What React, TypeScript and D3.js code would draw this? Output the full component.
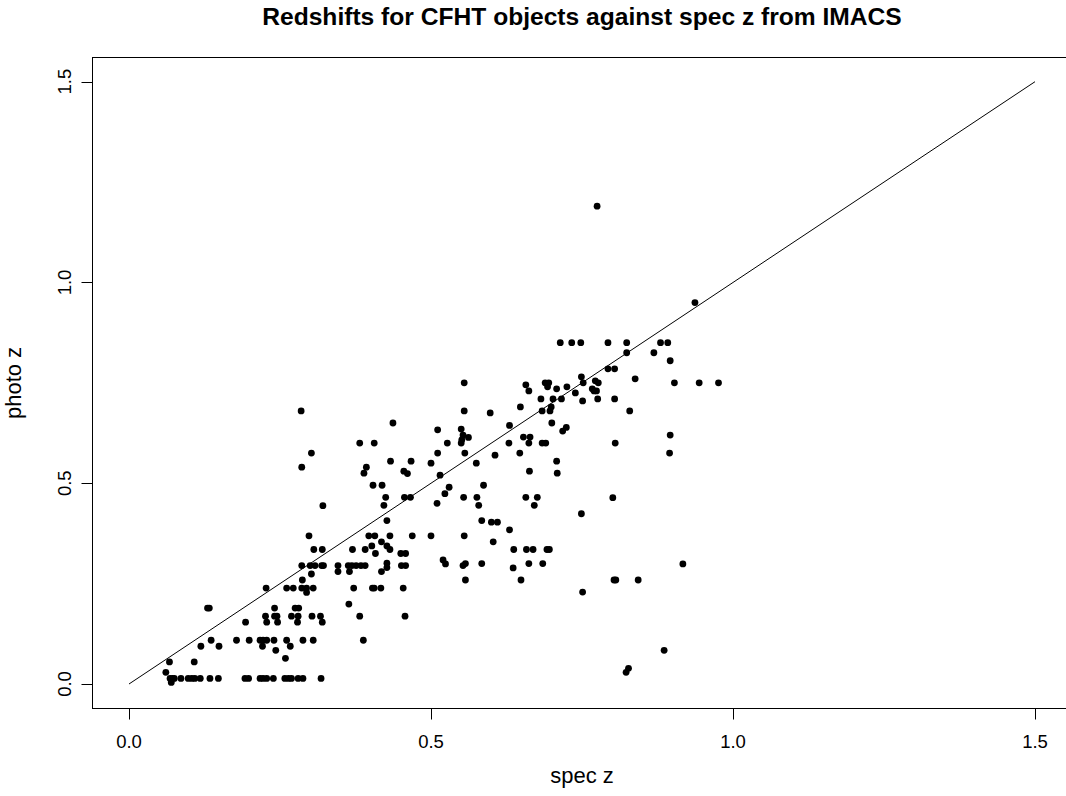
import React from "react";
import * as d3 from "d3";

const chartTitle = "Redshifts for CFHT objects against spec z from IMACS";
const xLabel = "spec z";
const yLabel = "photo z";
const tickValues = [0, 0.5, 1.0, 1.5];
const tickLabels = ["0.0", "0.5", "1.0", "1.5"];
const identityLine = [0, 1.5];

// [spec z, photo z]
const lowRow: [number, number][] = [
  [0.068, 0.014], [0.072, 0.014], [0.075, 0.014], [0.086, 0.014], [0.098, 0.014], [0.104, 0.014],
  [0.109, 0.014], [0.118, 0.014], [0.134, 0.014], [0.148, 0.014], [0.192, 0.014], [0.198, 0.014],
  [0.217, 0.014], [0.222, 0.014], [0.228, 0.014], [0.239, 0.014], [0.258, 0.014], [0.264, 0.014],
  [0.269, 0.014], [0.280, 0.014], [0.288, 0.014], [0.318, 0.014], [0.070, 0.004],
];

const lowPoints: [number, number][] = [
  [0.061, 0.029], [0.067, 0.055], [0.108, 0.055], [0.119, 0.094], [0.136, 0.109], [0.149, 0.094],
  [0.130, 0.189], [0.133, 0.189], [0.178, 0.109], [0.193, 0.154], [0.199, 0.109], [0.217, 0.109],
  [0.222, 0.109], [0.228, 0.109], [0.240, 0.109], [0.221, 0.094], [0.243, 0.084], [0.259, 0.064],
  [0.261, 0.109], [0.267, 0.094], [0.288, 0.109], [0.305, 0.109], [0.388, 0.109],
  [0.226, 0.169], [0.241, 0.169], [0.245, 0.169], [0.269, 0.169], [0.280, 0.169], [0.303, 0.169],
  [0.317, 0.169], [0.382, 0.169], [0.457, 0.169],
  [0.228, 0.154], [0.246, 0.154], [0.279, 0.154], [0.320, 0.154],
  [0.241, 0.189], [0.275, 0.189], [0.281, 0.189],
  [0.227, 0.239], [0.261, 0.239], [0.272, 0.239], [0.286, 0.239], [0.294, 0.239], [0.305, 0.239],
  [0.372, 0.239], [0.403, 0.239], [0.406, 0.239], [0.417, 0.239], [0.454, 0.239],
  [0.294, 0.228], [0.287, 0.259], [0.302, 0.274], [0.364, 0.199],
  [0.286, 0.295], [0.300, 0.295], [0.308, 0.295], [0.319, 0.295], [0.322, 0.295], [0.346, 0.295],
  [0.363, 0.295], [0.369, 0.295], [0.376, 0.295], [0.384, 0.295], [0.391, 0.295], [0.451, 0.295],
  [0.458, 0.295], [0.427, 0.301], [0.427, 0.290],
  [0.346, 0.280], [0.365, 0.280], [0.418, 0.280],
];

const midPoints: [number, number][] = [
  [0.302, 0.575], [0.286, 0.540], [0.321, 0.444], [0.298, 0.369], [0.306, 0.335], [0.320, 0.335],
  [0.370, 0.335], [0.285, 0.680],
  [0.427, 0.407], [0.397, 0.369], [0.407, 0.369], [0.432, 0.369], [0.469, 0.369], [0.500, 0.369],
  [0.555, 0.369], [0.584, 0.407], [0.600, 0.403], [0.610, 0.403], [0.630, 0.384], [0.603, 0.354],
  [0.418, 0.354], [0.402, 0.344], [0.427, 0.344], [0.432, 0.335], [0.391, 0.335], [0.408, 0.325],
  [0.450, 0.325], [0.458, 0.325], [0.520, 0.309], [0.524, 0.299], [0.553, 0.295], [0.557, 0.300],
  [0.584, 0.300], [0.557, 0.259], [0.637, 0.335], [0.658, 0.335], [0.669, 0.335], [0.692, 0.335],
  [0.696, 0.335], [0.636, 0.289], [0.662, 0.300], [0.685, 0.300], [0.649, 0.259],
];

const upperPoints: [number, number][] = [
  [0.714, 0.85], [0.555, 0.75], [0.657, 0.745], [0.662, 0.730], [0.689, 0.75], [0.695, 0.75],
  [0.693, 0.74], [0.708, 0.735], [0.725, 0.74], [0.682, 0.71], [0.702, 0.71], [0.716, 0.71],
  [0.648, 0.69], [0.555, 0.68], [0.598, 0.675], [0.684, 0.68], [0.697, 0.68], [0.699, 0.69],
  [0.437, 0.65], [0.700, 0.65], [0.630, 0.644], [0.511, 0.633], [0.550, 0.635], [0.718, 0.630],
  [0.724, 0.639], [0.553, 0.62], [0.562, 0.614], [0.551, 0.608], [0.550, 0.60],
  [0.382, 0.60], [0.406, 0.60], [0.527, 0.60], [0.629, 0.60], [0.653, 0.615], [0.664, 0.615],
  [0.662, 0.60], [0.684, 0.60], [0.690, 0.60],
  [0.511, 0.575], [0.556, 0.575], [0.606, 0.57], [0.647, 0.575],
  [0.433, 0.555], [0.467, 0.555], [0.500, 0.55], [0.575, 0.55], [0.708, 0.555],
  [0.393, 0.54], [0.389, 0.525], [0.455, 0.53], [0.461, 0.524], [0.515, 0.52], [0.663, 0.53],
  [0.709, 0.525], [0.404, 0.495], [0.419, 0.495], [0.530, 0.49], [0.587, 0.495], [0.523, 0.474],
  [0.425, 0.465], [0.456, 0.465], [0.466, 0.465], [0.554, 0.465], [0.576, 0.465], [0.657, 0.465],
  [0.676, 0.465], [0.422, 0.445], [0.510, 0.45], [0.579, 0.445], [0.671, 0.445],
];

const rightPoints: [number, number][] = [
  [0.805, 0.60], [0.896, 0.62], [0.895, 0.575], [0.801, 0.464], [0.749, 0.424], [0.917, 0.299],
  [0.803, 0.259], [0.806, 0.259], [0.843, 0.259], [0.751, 0.229],
  [0.733, 0.85], [0.748, 0.85], [0.793, 0.85], [0.824, 0.85], [0.880, 0.85], [0.892, 0.85],
  [0.824, 0.825], [0.869, 0.825], [0.896, 0.805], [0.793, 0.785], [0.804, 0.785], [0.749, 0.765],
  [0.838, 0.76], [0.752, 0.75], [0.772, 0.755], [0.777, 0.75], [0.903, 0.75], [0.944, 0.75],
  [0.976, 0.75], [0.739, 0.725], [0.767, 0.735], [0.770, 0.73], [0.774, 0.73], [0.751, 0.705],
  [0.776, 0.71], [0.804, 0.71], [0.829, 0.68], [0.775, 1.19], [0.937, 0.95],
  [0.886, 0.084], [0.827, 0.039], [0.823, 0.029],
];

const W = 1066;
const H = 796;
const FONT = "'Liberation Sans', Arial, Helvetica, sans-serif";

export default function App() {
  const all = [...lowRow, ...lowPoints, ...midPoints, ...upperPoints, ...rightPoints];
  const x = d3.scaleLinear().domain([-0.06, 1.56]).range([92.76, 1071.24]);
  const y = d3.scaleLinear().domain([-0.06, 1.56]).range([708.1, 57.6]);
  const line = d3.line<number>().x((d) => x(d)).y((d) => y(d));

  const left = Math.floor(x(-0.06)) + 0.5;
  const right = Math.floor(x(1.56)) + 0.5;
  const top = Math.floor(y(1.56)) + 0.5;
  const bottom = Math.floor(y(-0.06)) + 0.5;

  return (
    <svg
      width={W}
      height={H}
      style={{ position: "fixed", left: 0, top: 0, background: "#fff" }}
      fontFamily={FONT}
    >
      <rect x={0} y={0} width={W} height={H} fill="#fff" />
      <text x={582} y={24.5} textAnchor="middle" fontWeight="bold" fontSize={24.6} fill="#000">
        {chartTitle}
      </text>
      <path d={line(identityLine) || ""} stroke="#000" strokeWidth={1} fill="none" />
      {all.map((d, i) => (
        <circle key={i} cx={x(d[0])} cy={y(d[1])} r={3.4} fill="#000" />
      ))}
      <rect
        x={left}
        y={top}
        width={right - left}
        height={bottom - top}
        fill="none"
        stroke="#000"
        strokeWidth={1}
      />
      {/* x axis */}
      <line x1={x(tickValues[0])} x2={x(tickValues[tickValues.length - 1])} y1={bottom} y2={bottom} stroke="#000" />
      {tickValues.map((t, i) => (
        <g key={"xt" + i}>
          <line x1={Math.round(x(t)) + 0.5} x2={Math.round(x(t)) + 0.5} y1={bottom} y2={bottom + 11} stroke="#000" />
          <text x={x(t)} y={748} textAnchor="middle" fontSize={18.5} fill="#000">
            {tickLabels[i]}
          </text>
        </g>
      ))}
      {/* y axis */}
      <line x1={left} x2={left} y1={y(tickValues[0])} y2={y(tickValues[tickValues.length - 1])} stroke="#000" />
      {tickValues.map((t, i) => (
        <g key={"yt" + i}>
          <line x1={left - 11} x2={left} y1={Math.round(y(t)) + 0.5} y2={Math.round(y(t)) + 0.5} stroke="#000" />
          <text
            transform={`translate(70.5,${y(t)}) rotate(-90)`}
            textAnchor="middle"
            fontSize={18.5}
            fill="#000"
          >
            {tickLabels[i]}
          </text>
        </g>
      ))}
      <text x={582} y={782.5} textAnchor="middle" fontSize={22} fill="#000">
        {xLabel}
      </text>
      <text transform={`translate(21,383) rotate(-90)`} textAnchor="middle" fontSize={22} fill="#000">
        {yLabel}
      </text>
    </svg>
  );
}
